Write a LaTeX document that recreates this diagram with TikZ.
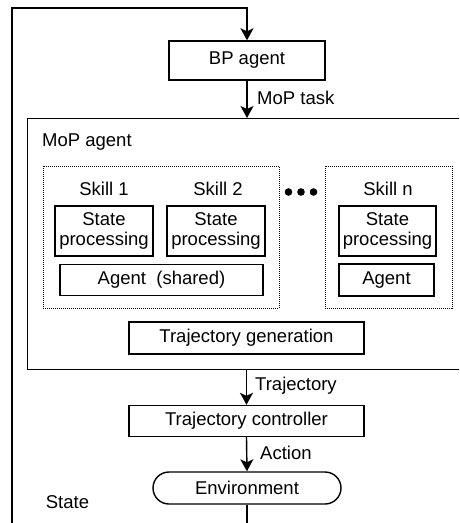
\documentclass[tikz,border=0pt]{standalone}
\usepackage{fontspec}
\setmainfont{Liberation Sans}
\usepackage{tikz}
\usetikzlibrary{arrows.meta}

\tikzset{
  block/.style={draw, line width=1.4pt, inner sep=0pt, align=center},
  group/.style={draw, line width=1pt, dash pattern=on 1pt off 1pt, inner sep=0pt},
  flow/.style={line width=1.4pt, -{Stealth[length=12pt,width=13pt,inset=3pt]}},
  lbl/.style={inner sep=0pt, anchor=west}
}

\begin{document}
\begin{tikzpicture}[x=1pt, y=-1pt, font=\fontsize{18.5}{20}\selectfont]

% page frame
\clip (0,0) rectangle (459,523);
\useasboundingbox (0,0) rectangle (459,523);

% top level blocks
\node[block, minimum width=156pt, minimum height=39pt] (bp) at (247,60.5) {BP agent};
\node[block, anchor=north west, minimum width=470pt, minimum height=251pt] (mop) at (27,118) {};
\node[lbl] (moplbl) at (42,142) {MoP agent};

% skill groups
\node[group, minimum width=236pt, minimum height=142pt] (grp1) at (161,237) {};
\node[group, minimum width=127pt, minimum height=142pt] (grpn) at (388.5,237) {};
\node[inner sep=0pt] (sk1) at (104,189) {Skill 1};
\node[inner sep=0pt] (sk2) at (218,189) {Skill 2};
\node[inner sep=0pt] (skn) at (388,189) {Skill n};
\foreach \x in {288.5,301,313.5} \fill (\x,192) circle (3.8pt);

\node[block, minimum width=98pt, minimum height=50pt] (sp1) at (104,231) {State\\processing};
\node[block, minimum width=98pt, minimum height=50pt] (sp2) at (216,231) {State\\processing};
\node[block, minimum width=97pt, minimum height=50pt] (spn) at (387.5,231) {State\\processing};
\node[block, minimum width=203pt, minimum height=31pt] (agsh) at (161.5,280) {Agent\ \ (shared)};
\node[block, minimum width=95pt, minimum height=32pt] (agn) at (386.5,280) {Agent};

\node[block, minimum width=235pt, minimum height=32pt] (tg) at (246.5,338) {Trajectory generation};

% lower blocks
\node[block, minimum width=235pt, minimum height=31pt] (tc) at (246.5,421) {Trajectory controller};
\node[block, rounded corners=16pt, minimum width=188pt, minimum height=32pt] (env) at (247,488) {Environment};
\node[inner sep=0pt] (statelbl) at (67.5,502) {State};

% connectors
\coordinate (fbtop) at (12,8);
\coordinate (fbbot) at (12,530);
\coordinate (envbot) at (247,530);
\draw[line width=1.4pt] (env.south) -- (envbot);
\draw[flow] (fbbot) -- (fbtop) -| (bp.north);
\draw[flow] (bp.south) -- (bp.south |- mop.north);
\draw[flow] (tc.north |- mop.south) -- (tc.north);
\draw[flow] (tc.south) -- (env.north);

\node[lbl] (tasklbl) at (257,98) {MoP task};
\node[lbl] (trajlbl) at (255,386) {Trajectory};
\node[lbl] (actlbl) at (260,453) {Action};

\end{tikzpicture}
\end{document}
